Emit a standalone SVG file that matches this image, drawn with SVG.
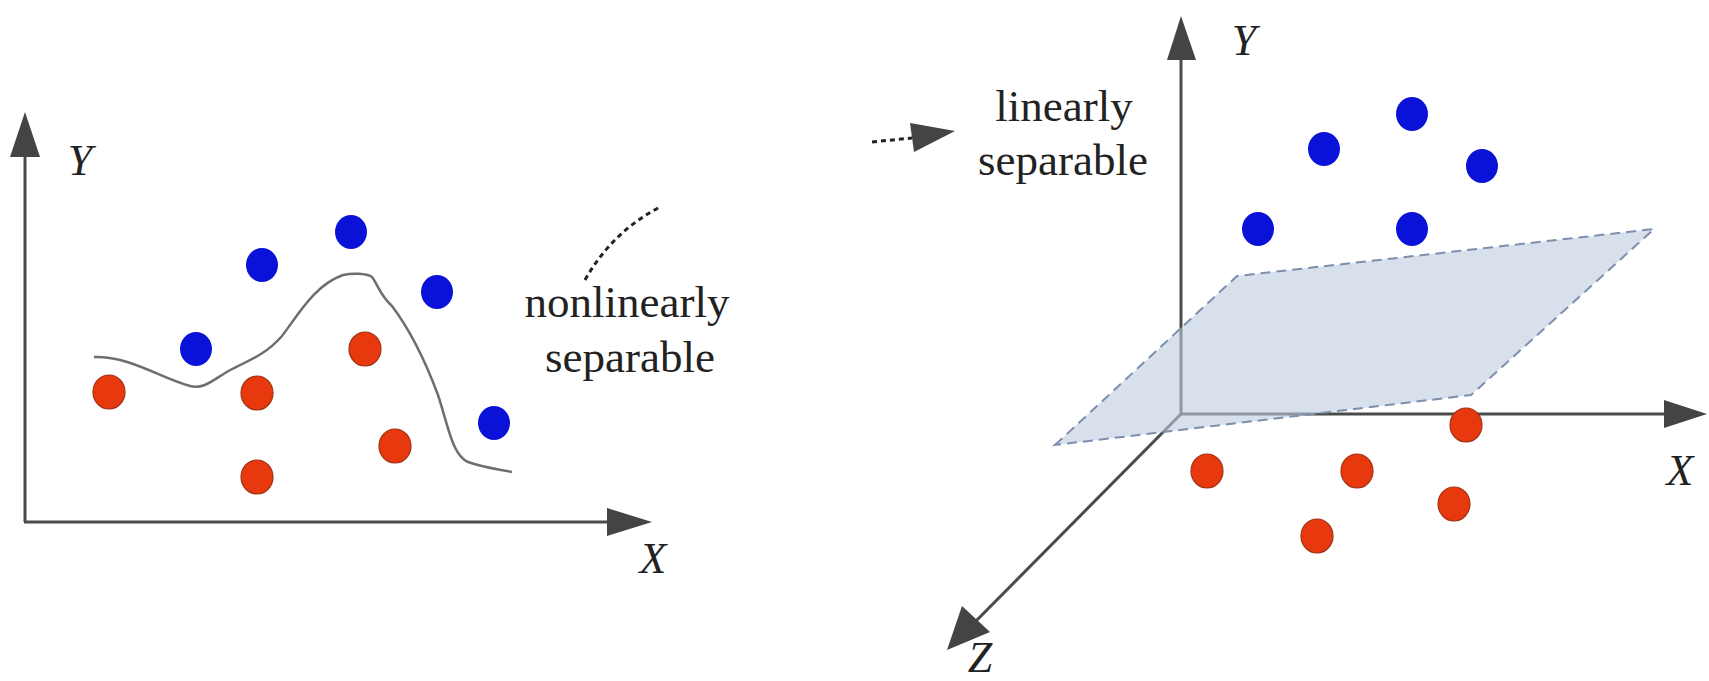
<svg xmlns="http://www.w3.org/2000/svg" width="1709" height="681" viewBox="0 0 1709 681">
<style>
.axis{stroke:#4a4a4a;stroke-width:3;fill:none}
.head{fill:#444}
.blue{fill:#0b12d8}
.red{fill:#e8390e;stroke:#a33215;stroke-width:1.2}
.lbl{font-family:"Liberation Serif",serif;font-size:45px;fill:#222;text-anchor:middle}
.ax{font-family:"Liberation Serif",serif;font-style:italic;font-size:44px;fill:#222;text-anchor:middle}
.dash{stroke:#222;stroke-width:3;fill:none;stroke-dasharray:5 4}
</style>
<rect width="1709" height="681" fill="#fff"/>
<g id="left-axes">
<line class="axis" x1="25" y1="522" x2="25" y2="152"/>
<polygon class="head" points="25,112 10,157 40,157"/>
<line class="axis" x1="24" y1="522" x2="612" y2="522"/>
<polygon class="head" points="652,522 607,508 607,536"/>
<text class="ax" x="80" y="175">Y</text>
<text class="ax" x="653" y="573">X</text>
</g>
<g id="boundary-curve">
<path d="M94,357 C130,356 160,378 190,386 C205,390 215,378 232,369 C255,358 268,352 282,336 C300,312 315,285 343,275 C352,273 366,273 372,277 C378,285 380,295 392,306 C410,330 425,360 438,395 C448,425 452,455 468,462 C485,468 498,469 512,472" fill="none" stroke="#6e6e6e" stroke-width="2.5"/>
</g>
<g id="left-points">
<ellipse class="blue" cx="351" cy="232" rx="16" ry="17"/>
<ellipse class="blue" cx="262" cy="265" rx="16" ry="17"/>
<ellipse class="blue" cx="437" cy="292" rx="16" ry="17"/>
<ellipse class="blue" cx="196" cy="349" rx="16" ry="17"/>
<ellipse class="blue" cx="494" cy="423" rx="16" ry="17"/>
<ellipse class="red" cx="109" cy="392" rx="16" ry="17"/>
<ellipse class="red" cx="257" cy="393" rx="16" ry="17"/>
<ellipse class="red" cx="365" cy="349" rx="16" ry="17"/>
<ellipse class="red" cx="395" cy="446" rx="16" ry="17"/>
<ellipse class="red" cx="257" cy="477" rx="16" ry="17"/>
</g>
<g id="nonlinear-label">
<text class="lbl" x="627" y="317">nonlinearly</text>
<text class="lbl" x="630" y="372">separable</text>
</g>
<g id="connectors">
<path class="dash" d="M585,280 Q612,232 660,207"/>
<line class="dash" x1="872" y1="142" x2="912" y2="138"/>
<polygon class="head" points="955,131 910,123 914,152"/>
</g>
<g id="right-axes">
<line class="axis" x1="1181" y1="414" x2="1181" y2="56"/>
<polygon class="head" points="1181,16 1167,60 1196,60"/>
<line class="axis" x1="1181" y1="414" x2="1668" y2="414"/>
<polygon class="head" points="1707,414 1664,400 1664,428"/>
<line class="axis" x1="1181" y1="414" x2="975" y2="622"/>
<polygon class="head" points="947,650 962,606 990,632"/>
<text class="ax" x="1244" y="55">Y</text>
<text class="ax" x="1680" y="485">X</text>
<text class="ax" x="980" y="672">Z</text>
</g>
<g id="hyperplane">
<polygon points="1055,445 1237,276 1654,229 1471,395" fill="#becbdf" fill-opacity="0.6" stroke="#7b8fae" stroke-width="2" stroke-dasharray="10 6"/>
</g>
<g id="right-points">
<ellipse class="blue" cx="1412" cy="114" rx="16" ry="17"/>
<ellipse class="blue" cx="1324" cy="149" rx="16" ry="17"/>
<ellipse class="blue" cx="1482" cy="166" rx="16" ry="17"/>
<ellipse class="blue" cx="1258" cy="229" rx="16" ry="17"/>
<ellipse class="blue" cx="1412" cy="229" rx="16" ry="17"/>
<ellipse class="red" cx="1466" cy="425" rx="16" ry="17"/>
<ellipse class="red" cx="1207" cy="471" rx="16" ry="17"/>
<ellipse class="red" cx="1357" cy="471" rx="16" ry="17"/>
<ellipse class="red" cx="1454" cy="504" rx="16" ry="17"/>
<ellipse class="red" cx="1317" cy="536" rx="16" ry="17"/>
</g>
<g id="linear-label">
<text class="lbl" x="1064" y="121">linearly</text>
<text class="lbl" x="1063" y="175">separable</text>
</g>
</svg>
